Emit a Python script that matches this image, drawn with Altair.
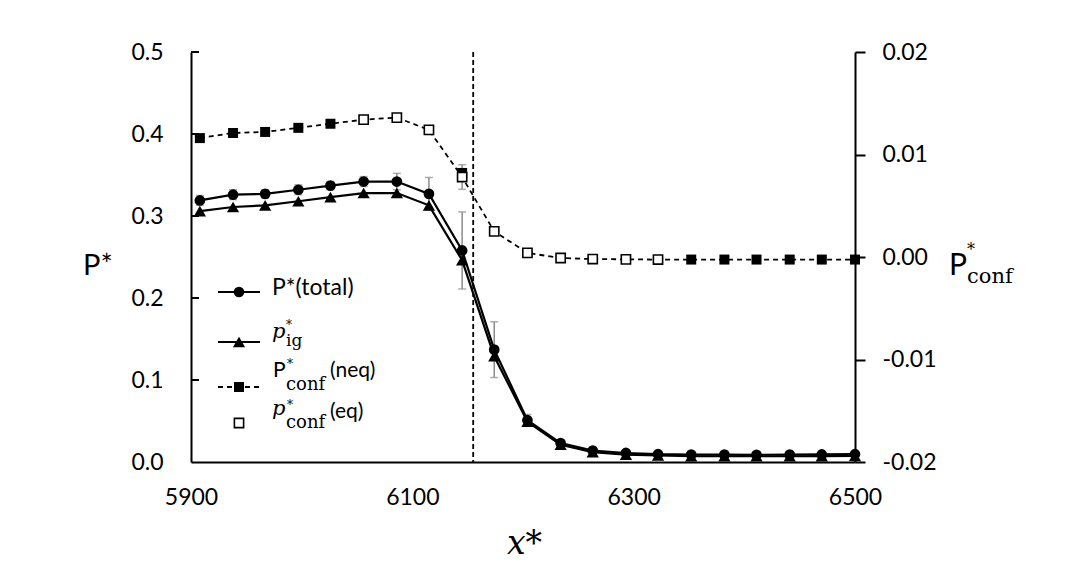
import altair as alt
import pandas as pd

# ---------------- data ----------------
x_vals = [5908, 5938, 5967, 5997, 6026, 6056, 6086, 6115, 6145, 6174, 6204,
          6234, 6263, 6293, 6322, 6352, 6382, 6411, 6441, 6470, 6500]
p_total = [0.319, 0.326, 0.327, 0.332, 0.337, 0.342, 0.342, 0.327, 0.258, 0.137, 0.051,
           0.023, 0.014, 0.011, 0.0095, 0.009, 0.009, 0.0088, 0.009, 0.0092, 0.0095]
p_total_err = [0.006, 0.006, 0.005, 0.006, 0.005, 0.006, 0.010, 0.020, 0.047, 0.034, 0.007,
               0.003, 0.002, 0.002, 0.001, 0.001, 0.001, 0.001, 0.001, 0.001, 0.001]
p_ig = [0.306, 0.311, 0.313, 0.318, 0.323, 0.328, 0.328, 0.313, 0.246, 0.129, 0.049,
        0.021, 0.012, 0.009, 0.008, 0.007, 0.007, 0.007, 0.007, 0.0072, 0.0075]
p_conf = [0.0116, 0.0121, 0.0122, 0.0126, 0.0130, 0.0134, 0.0136, 0.0124, 0.0078, 0.0025, 0.0004,
          -0.0001, -0.0002, -0.00023, -0.00025, -0.00025, -0.00025, -0.00025, -0.00025, -0.00025, -0.00025]
conf_state = ["neq", "neq", "neq", "neq", "neq", "eq", "eq", "eq", "eq", "eq", "eq",
              "eq", "eq", "eq", "eq", "neq", "neq", "neq", "neq", "neq", "neq"]
p_conf_err = [0, 0, 0, 0, 0, 0, 0, 0, 0.0012, 0, 0, 0, 0, 0, 0, 0, 0, 0, 0, 0, 0]
extra_neq_x = [6145]
extra_neq_y = [0.0082]
x_ticks = [5900, 6100, 6300, 6500]
left_ticks = [0.0, 0.1, 0.2, 0.3, 0.4, 0.5]
right_ticks = [-0.02, -0.01, 0.0, 0.01, 0.02]
marker_x = [6155]

W, H = 664, 410
SANS = "Lato"
SERIF = "DejaVu Serif"

df = pd.DataFrame({"x": x_vals, "p_total": p_total, "err": p_total_err, "p_ig": p_ig,
                   "p_conf": p_conf, "state": conf_state, "cerr": p_conf_err})
df["lo"] = df["p_total"] - df["err"]
df["hi"] = df["p_total"] + df["err"]
df["clo"] = df["p_conf"] - df["cerr"]
df["chi"] = df["p_conf"] + df["cerr"]
df_cerr = df[df["cerr"] > 0]
df_neq = df[df["state"] == "neq"]
df_eq = df[df["state"] == "eq"]
df_extra = pd.DataFrame({"x": extra_neq_x, "p_conf": extra_neq_y})

xscale = alt.Scale(domain=[5900, 6500], nice=False, zero=False)
xaxis = alt.Axis(values=x_ticks, format="d", ticks=False, tickSize=0, labelPadding=24,
                 labelFlush=False, title=None, grid=False)
X = alt.X("x:Q", scale=xscale, axis=xaxis)

lscale = alt.Scale(domain=[0, 0.5], nice=False, zero=False)
laxis = alt.Axis(values=left_ticks, format=".1f", ticks=False, tickSize=0, labelPadding=28,
                 labelFlush=False, title=None, grid=False)

rscale = alt.Scale(domain=[-0.02, 0.02], nice=False, zero=False)
raxis = alt.Axis(orient="right", values=right_ticks, tickSize=10, tickWidth=2, tickColor="black",
                 labelPadding=17, labelFlush=False, title=None, grid=False,
                 labelExpr="datum.value < -0.000001 ? '-' + format(-datum.value, '.2f') : format(abs(datum.value), '.2f')")

base = alt.Chart(df)
GRAY = "#8c8c8c"

err_rule = base.mark_rule(color=GRAY, strokeWidth=1.5).encode(
    x=X, y=alt.Y("lo:Q", scale=lscale, axis=laxis), y2="hi:Q")
err_top = base.mark_tick(color=GRAY, orient="horizontal", size=8, thickness=1.5).encode(
    x=X, y=alt.Y("hi:Q", scale=lscale, axis=laxis))
err_bot = base.mark_tick(color=GRAY, orient="horizontal", size=8, thickness=1.5).encode(
    x=X, y=alt.Y("lo:Q", scale=lscale, axis=laxis))

line_total = base.mark_line(color="black", strokeWidth=2.2).encode(
    x=X, y=alt.Y("p_total:Q", scale=lscale, axis=laxis))
pts_total = base.mark_point(shape="circle", filled=True, size=115, color="black", opacity=1).encode(
    x=X, y=alt.Y("p_total:Q", scale=lscale, axis=laxis))
line_ig = base.mark_line(color="black", strokeWidth=2.2).encode(
    x=X, y=alt.Y("p_ig:Q", scale=lscale, axis=laxis))
pts_ig = base.mark_point(shape="triangle-up", filled=True, size=150, color="black", opacity=1).encode(
    x=X, y=alt.Y("p_ig:Q", scale=lscale, axis=laxis))

vline = alt.Chart(pd.DataFrame({"x": marker_x})).mark_rule(
    color="black", strokeWidth=1.8, strokeDash=[5, 3]).encode(x=X)

inner_ticks = alt.Chart(pd.DataFrame({"v": left_ticks[1:]})).mark_rule(
    color="black", strokeWidth=2).encode(
    y=alt.Y("v:Q", scale=lscale, axis=laxis), x=alt.value(0), x2=alt.value(8))

left = alt.layer(err_rule, err_top, err_bot, line_ig, pts_ig, line_total, pts_total,
                 vline, inner_ticks)

YR = alt.Y("p_conf:Q", scale=rscale, axis=raxis)
line_conf = base.mark_line(color="black", strokeWidth=1.8, strokeDash=[5, 4]).encode(x=X, y=YR)
cerr_rule = alt.Chart(df_cerr).mark_rule(color=GRAY, strokeWidth=1.5).encode(
    x=X, y=alt.Y("clo:Q", scale=rscale, axis=raxis), y2="chi:Q")
cerr_top = alt.Chart(df_cerr).mark_tick(color=GRAY, orient="horizontal", size=8, thickness=1.5).encode(
    x=X, y=alt.Y("chi:Q", scale=rscale, axis=raxis))
cerr_bot = alt.Chart(df_cerr).mark_tick(color=GRAY, orient="horizontal", size=8, thickness=1.5).encode(
    x=X, y=alt.Y("clo:Q", scale=rscale, axis=raxis))
pts_extra = alt.Chart(df_extra).mark_point(shape="square", filled=True, size=100, color="black",
                                           opacity=1).encode(x=X, y=YR)
pts_neq = alt.Chart(df_neq).mark_point(shape="square", filled=True, size=100, color="black",
                                       opacity=1).encode(x=X, y=YR)
pts_eq = alt.Chart(df_eq).mark_point(shape="square", filled=True, size=85, fill="white",
                                     stroke="black", strokeWidth=1.6, opacity=1).encode(x=X, y=YR)

right = alt.layer(line_conf, cerr_rule, cerr_top, cerr_bot, pts_extra, pts_neq, pts_eq)

# ---------------- manual legend and axis titles ----------------
one = pd.DataFrame({"a": [0]})


def txt(s, x, y, font, size, italic=False):
    return alt.Chart(one).mark_text(text=s, font=font, fontSize=size,
                                    fontStyle="italic" if italic else "normal",
                                    align="left", baseline="alphabetic", color="black").encode(
        x=alt.value(x), y=alt.value(y))


def seg(x1, x2, y, dash=None):
    kw = dict(color="black", strokeWidth=2)
    if dash:
        kw["strokeDash"] = dash
        kw["strokeWidth"] = 1.8
    return alt.Chart(one).mark_rule(**kw).encode(x=alt.value(x1), x2=alt.value(x2), y=alt.value(y))


def sym(shape, x, y, size, open_=False):
    if open_:
        return alt.Chart(one).mark_point(shape=shape, filled=True, size=size, fill="white",
                                         stroke="black", strokeWidth=1.6, opacity=1).encode(
            x=alt.value(x), y=alt.value(y))
    return alt.Chart(one).mark_point(shape=shape, filled=True, size=size, color="black",
                                     opacity=1).encode(x=alt.value(x), y=alt.value(y))


legend = [
    seg(27, 69, 240), sym("circle", 48, 240, 115),
    txt("P*(total)", 81, 243, SANS, 23),
    seg(27, 69, 290), sym("triangle-up", 48, 290, 150),
    txt("p", 81, 286, SERIF, 21, True), txt("*", 95, 277, SERIF, 12), txt("ig", 95, 294, SERIF, 17),
    seg(27, 69, 335, [5, 4]), sym("square", 48, 335, 100),
    txt("P", 82, 325, SANS, 21), txt("*", 96, 316, SERIF, 12), txt("conf", 95, 338, SERIF, 18),
    txt("(neq)", 139, 325, SANS, 21),
    sym("square", 48, 371, 85, True),
    txt("p", 81, 363, SERIF, 21, True), txt("*", 96, 357, SERIF, 12), txt("conf", 95, 376, SERIF, 18),
    txt("(eq)", 139, 366, SANS, 21),
    # axis titles
    txt("P*", -108, 223, SANS, 29),
    txt("P", 758, 223, SANS, 30), txt("*", 776, 203, SERIF, 16), txt("conf", 776, 231, SERIF, 21),
    txt("x*", 316, 502, SERIF, 33, True),
]

chart = alt.layer(
    alt.layer(left, right).resolve_scale(y="independent"),
    *legend
).properties(
    width=W, height=H,
    autosize=alt.AutoSizeParams(type="none"),
    padding={"left": 183, "top": 44, "right": 200, "bottom": 100},
    background="white",
).configure_axis(
    labelFont=SANS, labelFontSize=23, labelColor="black",
    domainColor="black", domainWidth=2, grid=False,
).configure_view(stroke=None)

chart.save("out.html", embed_options={"renderer": "svg", "actions": False})
